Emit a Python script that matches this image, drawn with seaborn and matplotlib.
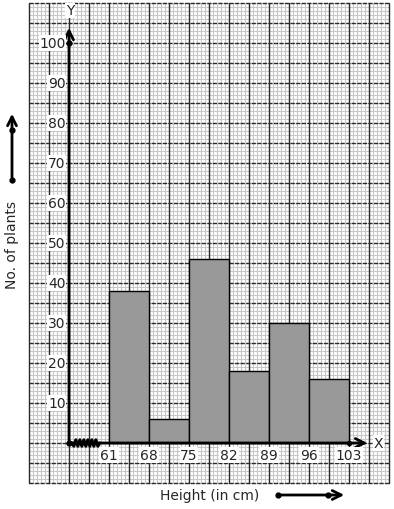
import numpy as np
import matplotlib
matplotlib.use("Agg")
import matplotlib.pyplot as plt
import seaborn as sns

# ---- data ----
bin_edges = [61, 68, 75, 82, 89, 96, 103]
counts = [38, 6, 46, 18, 30, 16]
x_tick_labels = ["61", "68", "75", "82", "89", "96", "103"]
y_tick_values = [10, 20, 30, 40, 50, 60, 70, 80, 90, 100]

sns.set_style("white")
plt.rcParams['font.family'] = ['DejaVu Sans']

W, H = 394, 510
fig = plt.figure(figsize=(W / 100, H / 100), dpi=100)
ax = fig.add_axes([29 / W, 26 / H, 360 / W, 480 / H])

X0, X1 = 47.0, 110.0
Y0, Y1 = -10.0, 110.0
ORIGIN_X = 54.0
ax.set_xlim(X0, X1)
ax.set_ylim(Y0, Y1)

# graph paper
for xv in np.arange(X0, X1 + 0.01, 0.7):
    ax.axvline(xv, color="#c8c8c8", lw=0.8, zorder=0, clip_on=False)
for yv in np.arange(Y0, Y1 + 0.01, 1.0):
    ax.axhline(yv, color="#c8c8c8", lw=0.8, zorder=0, clip_on=False)
for xv in np.arange(X0, X1 + 0.01, 3.5):
    ax.axvline(xv, color="#2a2a2a", lw=1.0, zorder=0.5, clip_on=False)
for yv in np.arange(Y0, Y1 + 0.01, 5.0):
    ax.axhline(yv, color="#2a2a2a", lw=1.0, ls=(0, (3, 1)), zorder=0.5, clip_on=False)

# histogram
mids = [(a + b) / 2 for a, b in zip(bin_edges[:-1], bin_edges[1:])]
sns.histplot(x=mids, weights=counts, bins=bin_edges, color="#999999",
             edgecolor="black", linewidth=1.0, alpha=1, ax=ax, zorder=2)

for s in ax.spines.values():
    s.set_visible(False)
ax.set_xticks([])
ax.set_yticks([])
ax.set_xlabel("")
ax.set_ylabel("")

# axes with arrows
arrow_kw = dict(arrowstyle="->", lw=2, color="black", mutation_scale=16)
ax.annotate("", xy=(ORIGIN_X, 104.5), xytext=(ORIGIN_X, 0),
            arrowprops=arrow_kw, zorder=4)
ax.annotate("", xy=(106.7, 0), xytext=(ORIGIN_X, 0),
            arrowprops=arrow_kw, zorder=4)
ax.plot([ORIGIN_X, ORIGIN_X], [0, 100], "o", color="black", ms=3.5, zorder=5)
ax.plot([103], [0], "o", color="black", ms=3, zorder=5)

# axis break zigzag
n_pts = 15
zx = np.linspace(54.5, 59.4, n_pts)
zy = np.where(np.arange(n_pts) % 2 == 0, 0.8, -0.8)
zy[0] = 0
zy[-1] = 0
ax.plot(zx, zy, color="black", lw=2.2, zorder=5)
ax.plot([ORIGIN_X, 54.5], [0, 0], color="black", lw=2, zorder=5)

# tick labels
bbox = dict(facecolor="white", edgecolor="none", pad=0.5)
for v in y_tick_values:
    ax.text(53.4, v, str(v), ha="right", va="center", fontsize=10, bbox=bbox, zorder=6)
for e, lab in zip(bin_edges, x_tick_labels):
    ax.text(e, -3.0, lab, ha="center", va="center", fontsize=10, bbox=bbox, zorder=6)
ax.text(ORIGIN_X + 0.2, 108.2, "Y", ha="center", va="center", fontsize=10, bbox=bbox, zorder=6)
ax.text(108.2, 0, "X", ha="center", va="center", fontsize=10, bbox=bbox, zorder=6)

# outer labels and arrows
fig.text(12 / W, 265 / H, "No. of plants", rotation=90, ha="center", va="center", fontsize=10)
fig.text(210 / W, 14 / H, "Height (in cm)", ha="center", va="center", fontsize=10)
ax.annotate("", xy=(12, 398), xytext=(12, 329), xycoords="figure pixels",
            textcoords="figure pixels", arrowprops=arrow_kw)
ax.annotate("", xy=(347, 14), xytext=(278, 14), xycoords="figure pixels",
            textcoords="figure pixels", arrowprops=arrow_kw)
for (px, py) in [(12, 329), (12, 379), (278, 14), (328, 14)]:
    fig.add_artist(matplotlib.lines.Line2D([px / W], [py / H], marker="o",
                                           color="black", ms=3.5))

fig.savefig("out.png", dpi=100)
